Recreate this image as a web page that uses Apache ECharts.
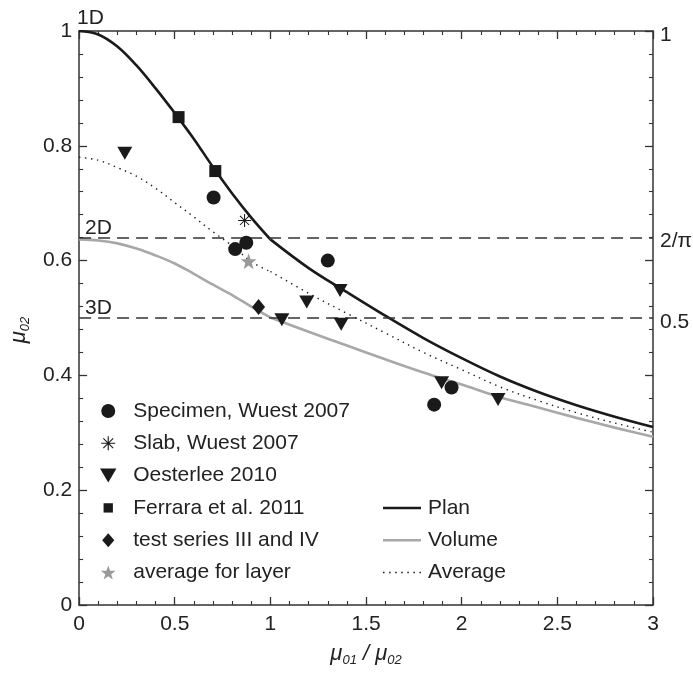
<!DOCTYPE html>
<html>
<head>
<meta charset="utf-8">
<script src="https://cdn.jsdelivr.net/npm/echarts@6/dist/echarts.min.js"></script>
<style>
  html, body { margin: 0; padding: 0; background: #fff; }
  #chart { width: 693px; height: 675px; }
</style>
</head>
<body>
<div id="chart"></div>
<script>
// ---- measured friction ratios (x = mu01/mu02, y = mu02) ----
const specimenPts   = [[0.703, 0.710], [0.816, 0.620], [0.874, 0.631], [1.30, 0.600], [1.856, 0.349], [1.947, 0.379]];
const slabPts       = [[0.865, 0.670]];
const oesterleePts  = [[0.239, 0.787], [1.06, 0.497], [1.19, 0.528], [1.364, 0.548], [1.37, 0.489], [1.895, 0.387], [2.19, 0.358]];
const ferraraPts    = [[0.52, 0.85], [0.712, 0.756]];
const testSeriesPts = [[0.938, 0.519]];
const layerAvgPts   = [[0.886, 0.599]];

// ---- model curves, sampled separately below and above the kink at ratio 1 ----
const xLow  = [0, 0.1, 0.2, 0.3, 0.4, 0.5, 0.6, 0.7, 0.8, 0.9, 1.0];
const xHigh = [1.0, 1.2, 1.4, 1.6, 1.8, 2.0, 2.2, 2.4, 2.6, 2.8, 3.0];
const planLow     = [1.0, 0.994, 0.973, 0.94, 0.9, 0.857, 0.812, 0.763, 0.717, 0.675, 0.637];
const planHigh    = [0.637, 0.587, 0.545, 0.504, 0.465, 0.43, 0.398, 0.371, 0.348, 0.328, 0.31];
const volumeLow   = [0.637, 0.635, 0.63, 0.621, 0.609, 0.595, 0.577, 0.558, 0.54, 0.52, 0.501];
const volumeHigh  = [0.501, 0.476, 0.452, 0.428, 0.405, 0.384, 0.362, 0.344, 0.326, 0.309, 0.293];
const averageLow  = [0.78, 0.775, 0.762, 0.747, 0.726, 0.701, 0.676, 0.65, 0.626, 0.598, 0.581];
const averageHigh = [0.581, 0.543, 0.508, 0.474, 0.44, 0.41, 0.38, 0.356, 0.335, 0.317, 0.301];

// ---- reference levels: 1D, 2D (2/pi), 3D (0.5) ----
const levelValues     = [1, 2 / Math.PI, 0.5];
const levelNames      = ['1D', '2D', '3D'];
const levelRightTexts = ['', '2/π', '0.5'];

const FONT = 'Liberation Sans, Arial, Helvetica, sans-serif';
const INK = '#1a1a1a';
const GREY_MARK = '#999999';
const GREY_LINE = '#a8a8a8';

const zip = (xs, ys) => xs.map((x, i) => [x, ys[i]]);

// symbol paths
const triDown  = 'path://M0,0L20,0L10,17Z';
const asterisk = 'path://M9.2,0h1.6v20h-1.6z M0,9.2h20v1.6h-20z M2.4,3.5L3.5,2.4L17.6,16.5L16.5,17.6z M16.5,2.4L17.6,3.5L3.5,17.6L2.4,16.5z';
const star5    = 'path://M10,0L12.35,6.76L19.51,6.91L13.8,11.24L15.88,18.09L10,14L4.12,18.09L6.2,11.24L0.49,6.91L7.65,6.76Z';
const legendSquare  = 'path://M-2.5,-2.5L-2.5,-2.5M12.5,12.5L12.5,12.5M0,0h10v10h-10z';
const legendDiamond = 'path://M6.5,0L13,7.5L6.5,15L0,7.5Z';
const legendTri     = 'path://M0,0L20,0L10,17Z';
const legendSolid   = 'path://M0,0h38v2.6h-38z';
let dots = '';
for (let x = 0; x <= 36; x += 6) dots += 'M' + x + ',0h1.5v1.5h-1.5z ';
const legendDotted  = 'path://' + dots.trim();

function axisCommon() {
  return {
    axisLine: { show: true, onZero: false, lineStyle: { color: '#333', width: 1.5 } },
    axisTick: { show: true, inside: true, length: 8, lineStyle: { color: '#333', width: 1.3 } },
    minorTick: { show: true, splitNumber: 5, length: 4, lineStyle: { color: '#333', width: 1.1 } },
    splitLine: { show: false },
    minorSplitLine: { show: false }
  };
}

const nameRich = {
  m: { fontFamily: FONT, fontStyle: 'italic', fontSize: 22, color: '#222', lineHeight: 26 },
  s: { fontFamily: FONT, fontStyle: 'italic', fontSize: 13, color: '#222', lineHeight: 26, verticalAlign: 'bottom', padding: [9, 0, 0, 0] }
};

function lineSeries(name, data, style, icon) {
  return {
    name, type: 'line', data, smooth: 0.35, symbol: 'none', showSymbol: false, z: 3,
    legendIcon: icon,
    lineStyle: style, itemStyle: { color: style.color }, animation: false, silent: true
  };
}

function scatterSeries(name, data, symbol, size, color) {
  return {
    name, type: 'scatter', data, symbol, symbolSize: size, z: 5,
    itemStyle: { color, opacity: 1 }, animation: false, silent: true
  };
}

const levelMarks = [];
levelValues.forEach((v, i) => {
  levelMarks.push({
    yAxis: v,
    lineStyle: { color: i === 0 ? 'rgba(0,0,0,0)' : '#333', width: 1.5, type: [12, 7] },
    label: { show: levelRightTexts[i] !== '', formatter: levelRightTexts[i], position: 'end', distance: 7,
             fontFamily: FONT, fontSize: 21, color: '#222', offset: [0, 4] }
  });
  levelMarks.push({
    yAxis: v,
    lineStyle: { color: 'rgba(0,0,0,0)', width: 1 },
    label: { show: true, formatter: levelNames[i], position: 'insideStartTop', distance: 3,
             fontFamily: FONT, fontSize: 21, color: '#222', offset: i === 0 ? [-5, 1] : [3, 4] }
  });
});

const planStyle = { color: INK, width: 2.6 };
const volStyle  = { color: GREY_LINE, width: 2.6 };
const avgStyle  = { color: INK, width: 1.4, type: [1.4, 4.6] };

const legendText = { fontFamily: FONT, fontSize: 21, color: '#222', lineHeight: 22 };

const option = {
  backgroundColor: '#fff',
  animation: false,
  grid: { left: 79, right: 40, top: 31, bottom: 70, containLabel: false },
  xAxis: [
    Object.assign(axisCommon(), {
      type: 'value', position: 'bottom', min: 0, max: 3, interval: 0.5,
      axisLabel: { fontFamily: FONT, fontSize: 21, color: '#222', margin: 9, formatter: v => String(v) },
      name: '{m|μ}{s|01}{m| / μ}{s|02}', nameLocation: 'middle', nameGap: 36,
      nameTextStyle: { rich: nameRich }
    }),
    Object.assign(axisCommon(), {
      type: 'value', position: 'top', min: 0, max: 3, interval: 0.5,
      axisLabel: { show: false }
    })
  ],
  yAxis: [
    Object.assign(axisCommon(), {
      type: 'value', position: 'left', min: 0, max: 1, interval: 0.2,
      axisLabel: { fontFamily: FONT, fontSize: 21, color: '#222', margin: 7, formatter: v => String(+v.toFixed(2)) },
      name: '{m|μ}{s|02}', nameLocation: 'middle', nameGap: 44, nameRotate: 90,
      nameTextStyle: { rich: nameRich, padding: [0, 24, 0, 0] }
    }),
    Object.assign(axisCommon(), {
      type: 'value', position: 'right', min: 0, max: 1, interval: 0.2,
      axisLabel: { fontFamily: FONT, fontSize: 21, color: '#222', margin: 7,
                   rich: { top: { fontFamily: FONT, fontSize: 21, color: '#222', padding: [9, 0, 0, 0] } },
                   formatter: v => (Math.abs(v - 1) < 1e-6 ? '{top|1}' : '') }
    })
  ],
  legend: [
    {
      orient: 'vertical', left: 95, top: 395, itemWidth: 40, itemHeight: 14, itemGap: 10.3,
      selectedMode: false, textStyle: legendText,
      data: [
        { name: 'Specimen, Wuest 2007' },
        { name: 'Slab, Wuest 2007' },
        { name: 'Oesterlee 2010', icon: legendTri },
        { name: 'Ferrara et al. 2011', icon: legendSquare },
        { name: 'test series III and IV', icon: legendDiamond },
        { name: 'average for layer' }
      ]
    },
    {
      orient: 'vertical', left: 378, top: 492, itemWidth: 38, itemHeight: 14, itemGap: 10.3,
      selectedMode: false, textStyle: Object.assign({ padding: [0, 0, 0, 2] }, legendText),
      data: [
        { name: 'Plan', icon: legendSolid },
        { name: 'Volume', icon: legendSolid },
        { name: 'Average', icon: legendDotted }
      ]
    }
  ],
  series: [
    lineSeries('Volume', zip(xLow, volumeLow), volStyle, legendSolid),
    lineSeries('Volume', zip(xHigh, volumeHigh), volStyle, legendSolid),
    lineSeries('Average', zip(xLow, averageLow), avgStyle, legendDotted),
    lineSeries('Average', zip(xHigh, averageHigh), avgStyle, legendDotted),
    lineSeries('Plan', zip(xLow, planLow), planStyle, legendSolid),
    lineSeries('Plan', zip(xHigh, planHigh), planStyle, legendSolid),
    {
      name: 'levels', type: 'line', data: [], z: 2, silent: true, animation: false,
      markLine: { symbol: ['none', 'none'], silent: true, animation: false, data: levelMarks }
    },
    scatterSeries('Specimen, Wuest 2007', specimenPts, 'circle', 14, INK),
    scatterSeries('Slab, Wuest 2007', slabPts, asterisk, 13, INK),
    scatterSeries('Oesterlee 2010', oesterleePts, triDown, [15, 13], INK),
    scatterSeries('Ferrara et al. 2011', ferraraPts, 'rect', 12, INK),
    scatterSeries('test series III and IV', testSeriesPts, 'diamond', [13, 16], INK),
    scatterSeries('average for layer', layerAvgPts, star5, 16, GREY_MARK)
  ]
};

const chart = echarts.init(document.getElementById('chart'), null, { renderer: 'canvas' });
chart.setOption(option);
</script>
</body>
</html>
